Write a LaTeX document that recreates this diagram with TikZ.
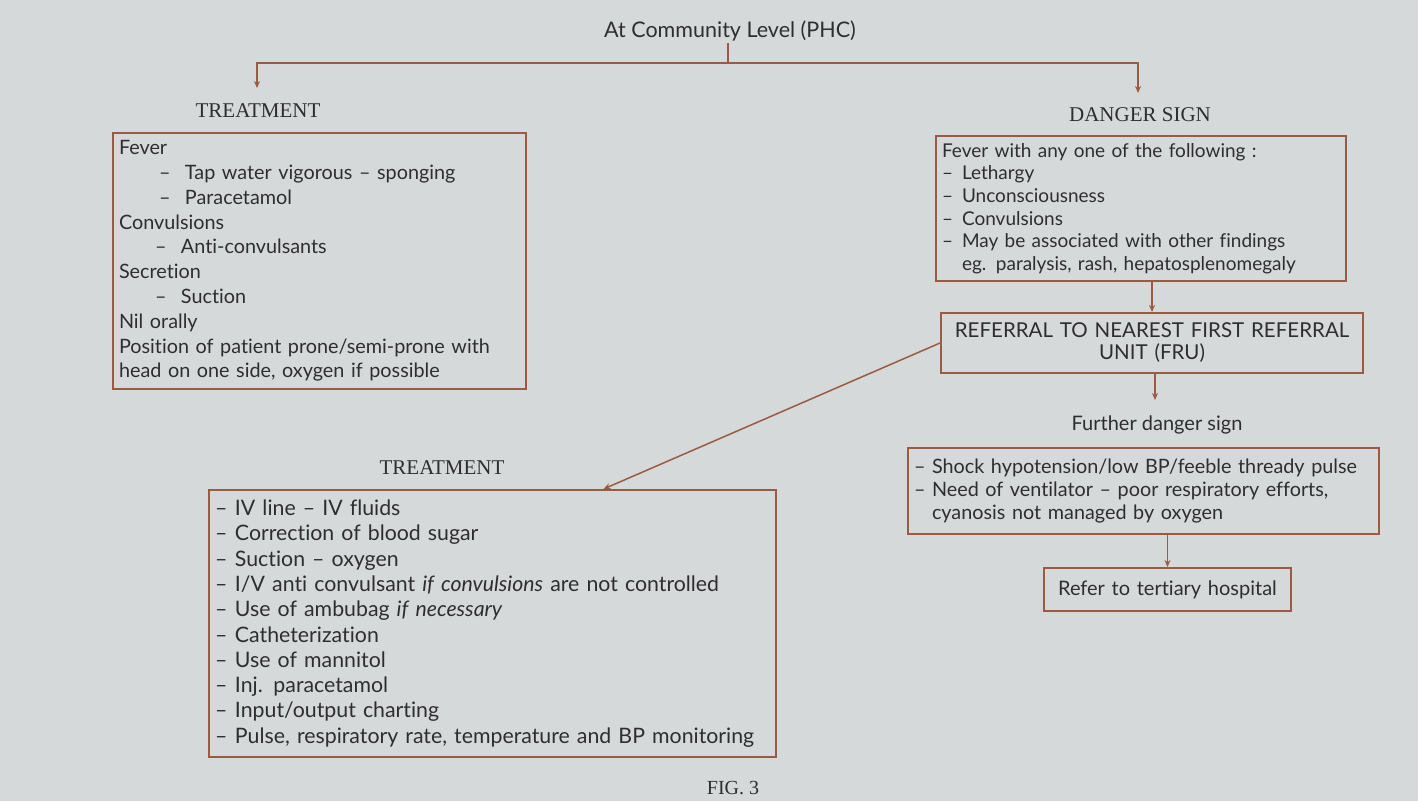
\documentclass[tikz,border=0pt]{standalone}
\usepackage{fontspec}
\setmainfont{Lato}[Ligatures=NoCommon]
\newfontfamily\headfont{Liberation Serif}
\usetikzlibrary{arrows.meta}
\definecolor{paper}{HTML}{D6D9DA}
\definecolor{brd}{HTML}{9A5B45}
\definecolor{ink}{HTML}{2E2E30}
\newcommand{\dsh}[1]{\makebox[#1][l]{–}}
\begin{document}
\begin{tikzpicture}[x=1pt,y=-1pt,
  box/.style={draw=brd, line width=2pt, rectangle, inner xsep=6pt, inner ysep=0pt,
              anchor=north west, align=left, text=ink},
  cbox/.style={box, align=center},
  head/.style={font=\headfont\fontsize{21}{24}\selectfont, text=ink, inner sep=2pt},
  plain/.style={font=\fontsize{20}{22}\selectfont, text=ink, inner sep=2pt},
  con/.style={draw=brd, line width=1.5pt},
  arr/.style={con, -{Stealth[length=7pt,width=6pt]}}]
\fill[paper] (0,0) rectangle (1418,801);
\useasboundingbox (0,0) rectangle (1418,801);

% title and split
\node[plain, font=\fontsize{21.5}{24}\selectfont] (top) at (730,31) {At Community Level (PHC)};
\coordinate (split) at (728,63);
\coordinate (la) at (257,88);
\coordinate (ra) at (1138,93);
\draw[con] (top.south -| split) -- (split);
\draw[arr] (split) -| (la);
\draw[arr] (split) -| (ra);

% left treatment
\node[head] (th1) at (258,111) {TREATMENT};
\node[box, text width=401pt, minimum height=256pt, font=\fontsize{19.8}{24.8}\selectfont] (tb1) at (112,132)
{Fever\\
\hspace*{40pt}\dsh{26pt}Tap water vigorous – sponging\\
\hspace*{40pt}\dsh{26pt}Paracetamol\\
Convulsions\\
\hspace*{36pt}\dsh{26pt}Anti-convulsants\\
Secretion\\
\hspace*{36pt}\dsh{26pt}Suction\\
Nil orally\\
Position of patient prone/semi-prone with\\
head on one side, oxygen if possible};

% danger sign
\node[head] (th2) at (1140,115) {DANGER SIGN};
\node[box, text width=398pt, minimum height=145pt, font=\fontsize{19}{22.6}\selectfont] (db) at (935,135)
{Fever with any one of the following :\\
\dsh{20pt}Lethargy\\
\dsh{20pt}Unconsciousness\\
\dsh{20pt}Convulsions\\
\dsh{20pt}May be associated with other findings\\
\hspace*{20pt}eg. paralysis, rash, hepatosplenomegaly};

% FRU
\node[cbox, text width=410pt, minimum height=60pt, font=\fontsize{20.5}{22}\selectfont] (fru) at (940,312)
{REFERRAL TO NEAREST FIRST REFERRAL\\UNIT (FRU)};
\draw[arr] (db.south -| fru.north) -- (fru.north);

% further danger sign
\node[plain] (fl) at (1157,425) {Further danger sign};
\coordinate (fa) at (1155,400);
\draw[arr] (fru.south -| fa) -- (fa);
\node[box, text width=459pt, minimum height=86pt, font=\fontsize{19.8}{23}\selectfont] (fb) at (907,447)
{\dsh{18pt}Shock hypotension/low BP/feeble thready pulse\\
\dsh{18pt}Need of ventilator – poor respiratory efforts,\\
\hspace*{18pt}cyanosis not managed by oxygen};

% refer
\node[cbox, text width=235pt, minimum height=43pt, font=\fontsize{20}{22}\selectfont] (rb) at (1043,567)
{Refer to tertiary hospital};
\draw[arr] (fb.south -| rb.north) -- (rb.north);

% lower treatment
\node[head] (th3) at (442,468) {TREATMENT};
\node[box, text width=555pt, minimum height=267pt, font=\fontsize{21.3}{25.3}\selectfont] (tb2) at (208,489)
{\dsh{20pt}IV line – IV fluids\\
\dsh{20pt}Correction of blood sugar\\
\dsh{20pt}Suction – oxygen\\
\dsh{20pt}I/V anti convulsant \emph{if convulsions} are not controlled\\
\dsh{20pt}Use of ambubag \emph{if necessary}\\
\dsh{20pt}Catheterization\\
\dsh{20pt}Use of mannitol\\
\dsh{20pt}Inj. paracetamol\\
\dsh{20pt}Input/output charting\\
\dsh{20pt}Pulse, respiratory rate, temperature and BP monitoring};
\draw[arr] (fru.west) -- ([xshift=111pt]tb2.north);

\node[head, font=\headfont\fontsize{20}{24}\selectfont] (fig) at (733,788) {FIG. 3};
\end{tikzpicture}
\end{document}
